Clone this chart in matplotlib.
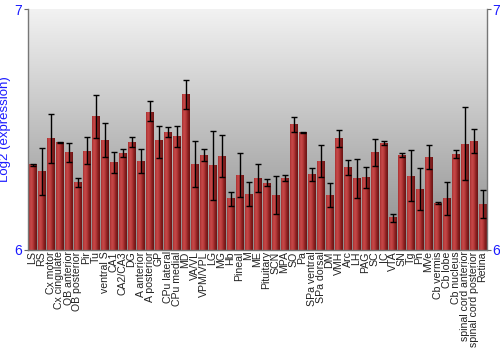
import numpy as np
import matplotlib
matplotlib.use("Agg")
import matplotlib.pyplot as plt
from matplotlib.colors import LinearSegmentedColormap

plt.rcParams['font.family'] = ['Liberation Sans', 'DejaVu Sans']

# Data
labels = ['LS', 'RS', 'Cx motor', 'Cx cingulate', 'OB anterior', 'OB posterior', 'Pir', 'Tu',
          'ventral S', 'CA1', 'CA2/CA3', 'DG', 'A anterior', 'A posterior', 'GP', 'CPu lateral',
          'CPu medial', 'MD', 'VA/VL', 'VPM/VPL', 'LG', 'MG', 'Hb', 'Pineal', 'M', 'ME',
          'Pituitary', 'SCN', 'MPA', 'SO', 'Pa', 'SPa ventral', 'SPa dorsal', 'DM', 'VMH', 'Arc',
          'LH', 'PAG', 'SC', 'IC', 'VTA', 'SN', 'Tg', 'Pn', 'MVe', 'Cb vermis', 'Cb lobe',
          'Cb nucleus', 'spinal cord anterior', 'spinal cord posterior', 'Retina']
values = [6.353, 6.325, 6.463, 6.445, 6.404, 6.282, 6.411, 6.553,
          6.456, 6.362, 6.401, 6.448, 6.366, 6.573, 6.454, 6.490,
          6.472, 6.644, 6.354, 6.394, 6.350, 6.389, 6.212, 6.310, 6.232, 6.299,
          6.278, 6.227, 6.299, 6.520, 6.487, 6.314, 6.369, 6.225, 6.461, 6.342,
          6.295, 6.302, 6.404, 6.444, 6.133, 6.394, 6.307, 6.252, 6.386, 6.195, 6.213,
          6.395, 6.440, 6.452, 6.190]
err_hi = [6.356, 6.425, 6.564, 6.447, 6.443, 6.300, 6.469, 6.643,
          6.527, 6.405, 6.418, 6.468, 6.418, 6.617, 6.515, 6.512,
          6.516, 6.705, 6.451, 6.420, 6.495, 6.476, 6.242, 6.401, 6.283, 6.356,
          6.293, 6.306, 6.310, 6.553, 6.489, 6.342, 6.436, 6.277, 6.497, 6.372,
          6.376, 6.346, 6.459, 6.452, 6.151, 6.404, 6.414, 6.339, 6.437, 6.200, 6.283,
          6.415, 6.593, 6.503, 6.248]
err_lo = [6.350, 6.228, 6.362, 6.443, 6.364, 6.261, 6.356, 6.463,
          6.385, 6.321, 6.387, 6.429, 6.318, 6.537, 6.383, 6.468,
          6.426, 6.584, 6.260, 6.368, 6.207, 6.303, 6.183, 6.220, 6.183, 6.241,
          6.264, 6.148, 6.285, 6.488, 6.485, 6.285, 6.303, 6.178, 6.426, 6.310,
          6.215, 6.257, 6.350, 6.436, 6.115, 6.386, 6.202, 6.166, 6.335, 6.190, 6.144,
          6.382, 6.289, 6.401, 6.131]

y_min, y_max = 6, 7
blue = '#1a1aff'

fig = plt.figure(figsize=(5, 3.5), dpi=100)
ax = fig.add_axes([0.056, 0.286, 0.918, 0.688])

x = np.arange(len(labels))
vals = np.array(values)
ax.set_xlim(-0.5, len(labels) - 0.5)
ax.set_ylim(y_min, y_max)

# gradient background, light at top, gray at bottom
bg = LinearSegmentedColormap.from_list('bg', ['#8c8c8c', '#f2f2f2'])
ax.imshow(np.linspace(0, 1, 256).reshape(-1, 1), cmap=bg, aspect='auto',
          extent=[-0.5, len(labels) - 0.5, y_min, y_max], origin='lower', zorder=0)

# bars with horizontal shading
bar_cmap = LinearSegmentedColormap.from_list('bar', ['#a83030', '#c84a4a', '#b83a3a', '#8a2020', '#6a1414'])
grad = np.linspace(0, 1, 64).reshape(1, -1)
w = 0.85
bars = ax.bar(x, vals - y_min, bottom=y_min, width=w, color='none', edgecolor='none', zorder=2)
for b in bars:
    x0, y0 = b.get_x(), b.get_y()
    ax.imshow(grad, cmap=bar_cmap, aspect='auto', zorder=2,
              extent=[x0, x0 + b.get_width(), y0, y0 + b.get_height()])

# error bars
yerr = np.vstack([vals - np.array(err_lo), np.array(err_hi) - vals])
ax.errorbar(x, vals, yerr=yerr, fmt='none', ecolor='black', elinewidth=1,
            capsize=2.5, capthick=1, zorder=3)

ax.set_xticks(x)
ax.set_xticklabels(labels, rotation=90, fontsize=7.6, color='#222222')
ax.tick_params(axis='x', length=0, pad=1)

ax.set_yticks([6, 7])
ax.set_yticklabels(['6', '7'])
ax.tick_params(axis='y', colors='#666666', labelcolor=blue, labelsize=10, length=3,
               left=True, right=True, labelleft=True, labelright=True, pad=1)
ax.set_ylabel('Log2 (expression)', color=blue, fontsize=9.5)
ax.yaxis.set_label_coords(-0.036, 0.5)

for s in ax.spines.values():
    s.set_color('#777777')
    s.set_linewidth(1)
ax.spines['top'].set_visible(False)

fig.savefig('out.png', dpi=100)
